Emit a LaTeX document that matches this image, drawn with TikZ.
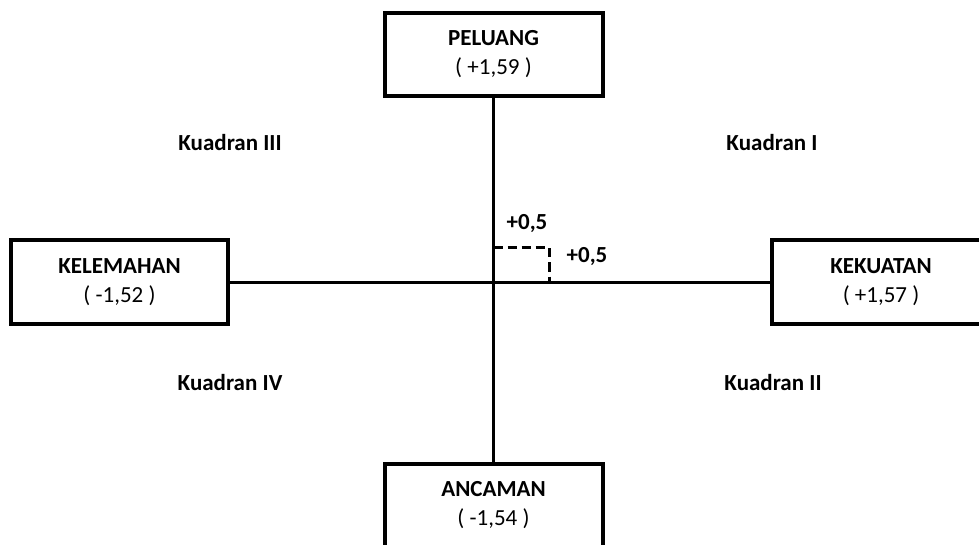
\documentclass[tikz,border=0pt]{standalone}
\usepackage{fontspec}
\setmainfont{Carlito}
\begin{document}
\begin{tikzpicture}[x=1pt,y=-1pt,
  box/.style={draw, line width=4pt, minimum width=218pt, minimum height=83pt, align=center, font=\fontsize{23}{29}\selectfont, inner sep=0pt},
  axisline/.style={line width=3pt},
  dashline/.style={line width=3pt, dash pattern=on 9pt off 5pt},
  lbl/.style={font=\fontsize{23}{28}\selectfont\bfseries, inner sep=0pt}]
\useasboundingbox (0,0) rectangle (979,545);
\clip (0,0) rectangle (979,545);
\fill[white] (0,0) rectangle (979,545);
% boxes
\node[box] (peluang) at (493.5,54.5) {\textbf{PELUANG}\\( +1,59 )};
\node[box] (ancaman) at (493.5,505) {\textbf{ANCAMAN}\\( -1,54 )};
\node[box, minimum width=217pt, minimum height=84pt] (kelemahan) at (119.5,282) {\textbf{KELEMAHAN}\\( -1,52 )};
\node[box, minimum height=84pt] (kekuatan) at (881,282) {\textbf{KEKUATAN}\\( +1,57 )};
% axes
\draw[axisline] (peluang.south) -- (ancaman.north);
\draw[axisline] (kelemahan.east) -- (kekuatan.west);
% dashed square
\coordinate (d1) at (493.5,248);
\coordinate (d2) at (549,248);
\coordinate (d3) at (549,282);
\draw[dashline] (d1) -- (d2) -- (d3);
% labels
\node[lbl] (h1) at (527,224) {+0,5};
\node[lbl] (h2) at (587,257) {+0,5};
\node[lbl] (q3) at (230,143) {Kuadran III};
\node[lbl] (q1) at (772,143) {Kuadran I};
\node[lbl] (q4) at (230,383) {Kuadran IV};
\node[lbl] (q2) at (773,383) {Kuadran II};
\end{tikzpicture}
\end{document}
